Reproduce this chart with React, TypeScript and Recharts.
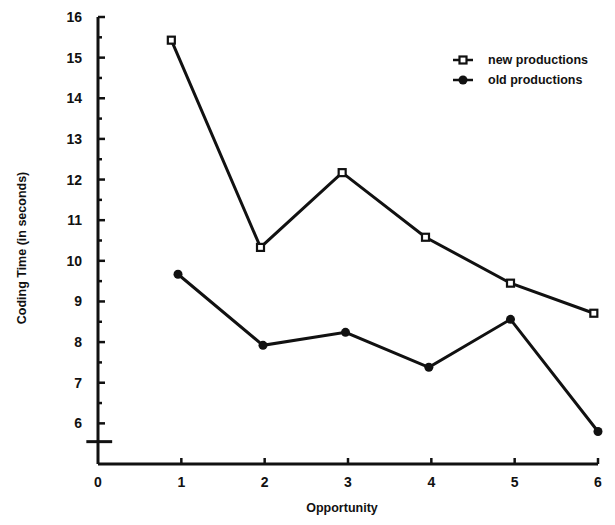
import { Line, LineChart, ReferenceLine, XAxis, YAxis } from "recharts";

// values
const newX = [0.88, 1.95, 2.93, 3.93, 4.95, 5.95];
const newTime = [15.43, 10.33, 12.17, 10.58, 9.45, 8.71];
const oldX = [0.96, 1.98, 2.97, 3.97, 4.95, 6.0];
const oldTime = [9.67, 7.92, 8.24, 7.38, 8.56, 5.8];

const xTicks = [0, 1, 2, 3, 4, 5, 6];
const yTicks = [
  6, 6.5, 7, 7.5, 8, 8.5, 9, 9.5, 10, 10.5, 11, 11.5, 12, 12.5, 13, 13.5, 14,
  14.5, 15, 15.5, 16
];
const seriesNames = ["new productions", "old productions"];

const newData = newX.map((x, i) => ({ x, time: newTime[i] }));
const oldData = oldX.map((x, i) => ({ x, time: oldTime[i] }));

const FONT = "'Liberation Sans', Arial, sans-serif";
const INK = "#111";

function YTick(props: any) {
  const { x, y, payload } = props;
  const major = Number.isInteger(payload.value);
  const axisX = x + 16;
  return (
    <g>
      <line x1={axisX} x2={axisX + (major ? 7 : 4)} y1={y} y2={y} stroke={INK} strokeWidth={2.5} />
      {major && (
        <text x={x} y={y} dy={5} textAnchor="end" fontFamily={FONT} fontWeight="bold" fontSize={14} fill={INK}>
          {payload.value}
        </text>
      )}
    </g>
  );
}

function XTick(props: any) {
  const { x, y, payload } = props;
  const axisY = y - 12;
  return (
    <g>
      {payload.value > 0 && <line x1={x} x2={x} y1={axisY} y2={axisY - 6} stroke={INK} strokeWidth={2.5} />}
      <text x={x} y={y} dy={11} textAnchor="middle" fontFamily={FONT} fontWeight="bold" fontSize={14} fill={INK}>
        {payload.value}
      </text>
    </g>
  );
}

function SquareDot(props: any) {
  const { cx, cy } = props;
  if (cx == null || cy == null) return null;
  return <rect x={cx - 3.5} y={cy - 3.5} width={7} height={7} fill="#fff" stroke={INK} strokeWidth={2.2} />;
}

function RoundDot(props: any) {
  const { cx, cy } = props;
  if (cx == null || cy == null) return null;
  return <circle cx={cx} cy={cy} r={4.5} fill={INK} />;
}

function LegendBox() {
  const row = (label: string, filled: boolean) => (
    <div key={label} style={{ display: "flex", alignItems: "center", height: 20 }}>
      <svg width={22} height={12} style={{ marginRight: 14 }}>
        <line x1={1} x2={21} y1={6} y2={6} stroke={INK} strokeWidth={2.5} />
        {filled ? (
          <circle cx={11} cy={6} r={4.5} fill={INK} />
        ) : (
          <rect x={7.5} y={2.5} width={7} height={7} fill="#fff" stroke={INK} strokeWidth={2.2} />
        )}
      </svg>
      <span>{label}</span>
    </div>
  );
  return (
    <div
      style={{
        position: "absolute",
        left: 452,
        top: 50,
        fontFamily: FONT,
        fontWeight: "bold",
        fontSize: 12.5,
        color: INK,
        whiteSpace: "nowrap"
      }}
    >
      {row(seriesNames[0], false)}
      {row(seriesNames[1], true)}
    </div>
  );
}

export default function App() {
  return (
    <div style={{ position: "absolute", left: 0, top: 0, width: 615, height: 525, background: "#fff" }}>
      <LineChart width={615} height={525} margin={{ top: 17, right: 17, bottom: 0, left: 0 }}>
        <XAxis
          type="number"
          dataKey="x"
          domain={[0, 6]}
          ticks={xTicks}
          height={61}
          tickSize={0}
          tickMargin={12}
          tick={<XTick />}
          axisLine={{ stroke: INK, strokeWidth: 3 }}
          allowDuplicatedCategory={false}
          label={{
            content: () => (
              <text x={342} y={512} textAnchor="middle" fontFamily={FONT} fontWeight="bold" fontSize={12.5} fill={INK}>
                Opportunity
              </text>
            )
          }}
        />
        <YAxis
          type="number"
          domain={[5, 16]}
          ticks={yTicks}
          interval={0}
          width={98}
          tickSize={0}
          tickMargin={16}
          tick={<YTick />}
          axisLine={{ stroke: INK, strokeWidth: 3 }}
          label={{
            content: () => (
              <text
                x={26}
                y={248}
                transform="rotate(-90 26 248)"
                textAnchor="middle"
                fontFamily={FONT}
                fontWeight="bold"
                fontSize={12.5}
                fill={INK}
              >
                Coding Time (in seconds)
              </text>
            )
          }}
        />
        <ReferenceLine
          segment={[
            { x: -0.14, y: 5.55 },
            { x: 0.17, y: 5.55 }
          ]}
          stroke={INK}
          strokeWidth={3}
          ifOverflow="visible"
        />
        <Line
          data={newData}
          dataKey="time"
          name={seriesNames[0]}
          stroke={INK}
          strokeWidth={3}
          dot={<SquareDot />}
          isAnimationActive={false}
        />
        <Line
          data={oldData}
          dataKey="time"
          name={seriesNames[1]}
          stroke={INK}
          strokeWidth={3}
          dot={<RoundDot />}
          isAnimationActive={false}
        />
      </LineChart>
      <LegendBox />
    </div>
  );
}
